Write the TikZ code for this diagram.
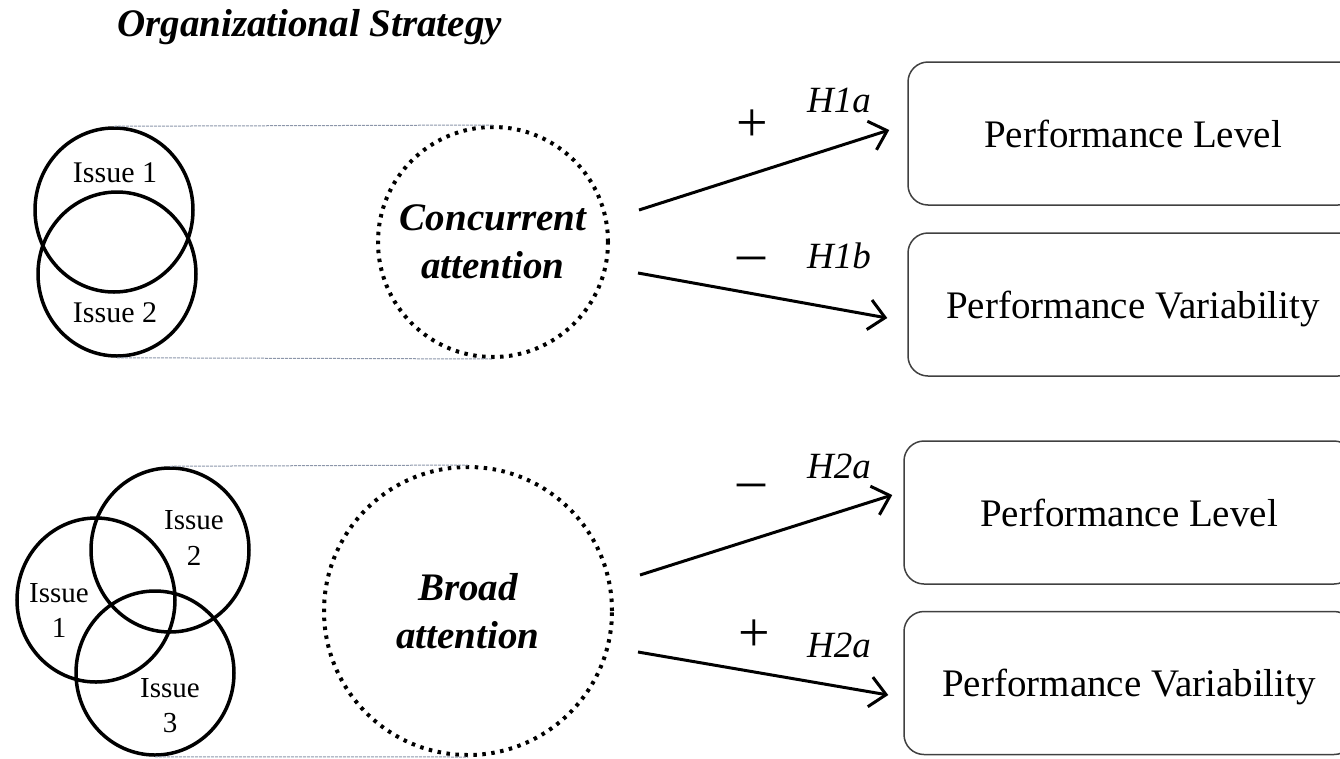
\documentclass[tikz,border=0pt]{standalone}
\usepackage{fontspec}
\setmainfont{Liberation Serif}
\usetikzlibrary{arrows.meta,shapes.geometric}
\begin{document}
\begin{tikzpicture}[x=1pt,y=-1pt,
  venn/.style={draw,line width=3.5pt,ellipse,minimum width=158pt,minimum height=164pt,inner sep=0pt},
  attn/.style={draw,circle,line width=4pt,dash pattern=on 3.5pt off 5.5pt,inner sep=0pt,align=center,font=\fontsize{39}{48}\selectfont\bfseries\itshape},
  outbox/.style={draw=black!75,line width=1.5pt,rounded corners=20pt,minimum width=450pt,minimum height=143pt,inner sep=0pt,text depth=0pt,font=\fontsize{39}{47}\selectfont},
  guide/.style={draw={rgb,255:red,140;green,150;blue,170},line width=1pt,dash pattern=on 3pt off 1pt},
  arr/.style={line width=3pt,-{Straight Barb[length=16pt,width=30pt]}},
  issue/.style={font=\fontsize{30}{35}\selectfont,inner sep=0pt,anchor=base},
  issuesm/.style={font=\fontsize{29}{35}\selectfont,inner sep=0pt,anchor=base},
  sign/.style={font=\fontsize{56}{56}\selectfont,inner sep=0pt},
  hyp/.style={font=\fontsize{37}{37}\selectfont\itshape,inner sep=0pt,anchor=base}
]
\useasboundingbox (0,0) rectangle (1340,758);

% title
\node[anchor=base west,inner sep=0pt,font=\fontsize{39}{39}\selectfont\bfseries\itshape] (title) at (117,36) {Organizational Strategy};

% attention circles
\node[attn,minimum size=230pt] (ca) at (493,242) {Concurrent\\attention};
\node[attn,minimum size=288pt] (cb) at (468,611) {Broad\\attention};

% venn nodes (top)
\node[venn] (v1) at (114,210) {};
\node[venn] (v2) at (117,274) {};
% venn nodes (bottom)
\node[venn] (w1) at (96,600) {};
\node[venn] (w2) at (170,550) {};
\node[venn] (w3) at (155,673) {};

% guide lines
\begin{scope}[on background layer/.style={}]
\draw[guide] (v1.north) -- (ca.north);
\draw[guide] (v2.south) -- (ca.south);
\draw[guide] (w2.north) -- (cb.north);
\draw[guide] (w3.south) -- (cb.south);
\end{scope}

% issue labels
\node[issue] (l1) at (115,182) {Issue 1};
\node[issue] (l2) at (115,322) {Issue 2};
\node[issuesm] (m2a) at (194,529) {Issue};
\node[issuesm] (m2b) at (194,565) {2};
\node[issuesm] (m1a) at (59,602) {Issue};
\node[issuesm] (m1b) at (59,637) {1};
\node[issuesm] (m3a) at (170,697) {Issue};
\node[issuesm] (m3b) at (170,732) {3};

% outcome boxes
\node[outbox] (b1) at (1133,133.5) {Performance Level};
\node[outbox] (b2) at (1133,304.5) {Performance Variability};
\node[outbox] (b3) at (1129,512.5) {Performance Level};
\node[outbox] (b4) at (1129,683) {Performance Variability};

% arrows
\draw[arr] ([xshift=29pt,yshift=32pt]ca.east) -- ([xshift=-18pt,yshift=3.5pt]b1.west);
\draw[arr] ([xshift=28pt,yshift=-31pt]ca.east) -- ([xshift=-20pt,yshift=-13.5pt]b2.west);
\draw[arr] ([xshift=26pt,yshift=36pt]cb.east) -- ([xshift=-11pt,yshift=17.5pt]b3.west);
\draw[arr] ([xshift=24pt,yshift=-41pt]cb.east) -- ([xshift=-15pt,yshift=-12pt]b4.west);

% signs and hypotheses
\node[sign] (p1) at (752,126) {+};
\node[hyp] (h1a) at (839,112) {H1a};
\node[sign,anchor=base] (n1) at (751,271) {–};
\node[hyp] (h1b) at (839,268) {H1b};
\node[sign,anchor=base] (n2) at (751,498) {–};
\node[hyp] (h2a) at (839,478) {H2a};
\node[sign] (p2) at (754,636) {+};
\node[hyp] (h2b) at (839,657) {H2a};
\end{tikzpicture}
\end{document}
